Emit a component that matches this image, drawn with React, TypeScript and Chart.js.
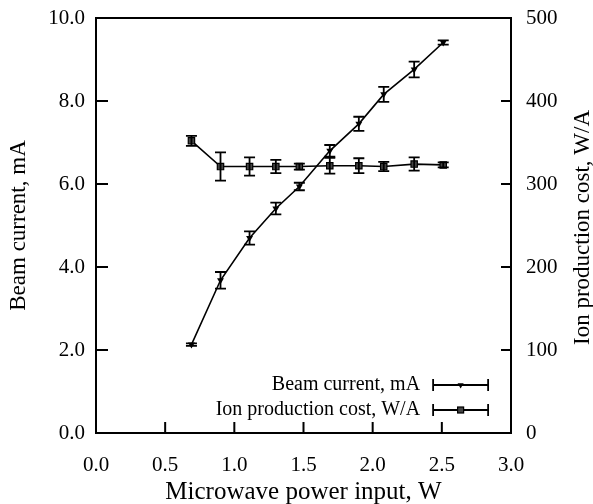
import React, { useEffect, useRef } from "react";
import { Chart, registerables } from "chart.js";
Chart.register(...registerables);

const powerW = [0.69, 0.9, 1.11, 1.3, 1.47, 1.69, 1.9, 2.08, 2.3, 2.51];
const beamCurrent = [2.13, 3.68, 4.7, 5.41, 5.94, 6.8, 7.45, 8.16, 8.76, 9.41];
const beamErr = [0.03, 0.2, 0.16, 0.14, 0.09, 0.14, 0.17, 0.18, 0.19, 0.05];
const ionCost = [352, 321, 321, 321, 321, 322, 322, 321, 324, 323];
const costErr = [6, 17, 11, 8, 3.6, 9.4, 9, 5.6, 8, 3];

const xTickValues = [0.5, 1.0, 1.5, 2.0, 2.5];
const yTickValues = [2, 4, 6, 8];
const y2TickValues = [100, 200, 300, 400];

const legendLabels = ["Beam current, mA", "Ion production cost, W/A"];
const xTitle = "Microwave power input, W";
const yTitle = "Beam current, mA";
const y2Title = "Ion production cost, W/A";

const FONT = '"Liberation Serif", "Times New Roman", serif';

function drawTriangleDown(ctx: CanvasRenderingContext2D, x: number, y: number, r: number) {
  ctx.beginPath();
  ctx.moveTo(x - r * 0.87, y - r * 0.5);
  ctx.lineTo(x + r * 0.87, y - r * 0.5);
  ctx.lineTo(x, y + r);
  ctx.closePath();
  ctx.fill();
}

const errorBarPlugin = {
  id: "errorBars",
  afterDatasetsDraw(chart: any) {
    const ctx = chart.ctx;
    const xs = chart.scales.x;
    ctx.save();
    ctx.strokeStyle = "#000";
    ctx.lineWidth = 1.8;
    chart.data.datasets.forEach((ds: any) => {
      const ys = chart.scales[ds.yAxisID];
      ds.data.forEach((p: any, i: number) => {
        const e = ds.errors[i];
        const px = xs.getPixelForValue(p.x);
        const top = ys.getPixelForValue(p.y + e);
        const bot = ys.getPixelForValue(p.y - e);
        const cw = 5.5;
        ctx.beginPath();
        ctx.moveTo(px, top);
        ctx.lineTo(px, bot);
        ctx.moveTo(px - cw, top);
        ctx.lineTo(px + cw, top);
        ctx.moveTo(px - cw, bot);
        ctx.lineTo(px + cw, bot);
        ctx.stroke();
      });
    });
    ctx.restore();
  },
  afterDraw(chart: any) {
    const ctx = chart.ctx;
    const a = chart.chartArea;
    const xs = chart.scales.x;
    const ys = chart.scales.y;
    const y2 = chart.scales.y2;
    ctx.save();
    ctx.strokeStyle = "#000";
    ctx.lineWidth = 2;
    ctx.strokeRect(a.left, a.top, a.right - a.left, a.bottom - a.top);
    ctx.beginPath();
    xTickValues.forEach((v) => {
      const px = xs.getPixelForValue(v);
      ctx.moveTo(px, a.bottom);
      ctx.lineTo(px, a.bottom - 11);
    });
    yTickValues.forEach((v) => {
      const py = ys.getPixelForValue(v);
      ctx.moveTo(a.left, py);
      ctx.lineTo(a.left + 12, py);
    });
    y2TickValues.forEach((v) => {
      const py = y2.getPixelForValue(v);
      ctx.moveTo(a.right, py);
      ctx.lineTo(a.right - 10, py);
    });
    ctx.stroke();

    // right axis title, reading bottom-to-top
    ctx.save();
    ctx.fillStyle = "#000";
    ctx.font = "23px " + FONT;
    ctx.textAlign = "center";
    ctx.textBaseline = "middle";
    ctx.translate(583, (a.top + a.bottom) / 2 + 2);
    ctx.rotate(-Math.PI / 2);
    ctx.fillText(y2Title, 0, 0);
    ctx.restore();

    // legend
    ctx.font = "20px " + FONT;
    ctx.fillStyle = "#000";
    ctx.textAlign = "right";
    ctx.textBaseline = "middle";
    const rows = [385, 410];
    const textRight = a.left + (a.right - a.left) * 0.781;
    const sx0 = textRight + 13;
    const sx1 = sx0 + 55;
    const mx = (sx0 + sx1) / 2;
    legendLabels.forEach((lab, i) => {
      const ry = rows[i];
      ctx.fillText(lab, textRight, ry);
      ctx.lineWidth = 1.8;
      ctx.beginPath();
      ctx.moveTo(sx0, ry);
      ctx.lineTo(sx1, ry);
      ctx.moveTo(sx0, ry - 6);
      ctx.lineTo(sx0, ry + 6);
      ctx.moveTo(sx1, ry - 6);
      ctx.lineTo(sx1, ry + 6);
      ctx.stroke();
      if (i === 0) {
        drawTriangleDown(ctx, mx, ry, 3.5);
      } else {
        ctx.fillStyle = "#444";
        ctx.fillRect(mx - 3, ry - 3, 6, 6);
        ctx.lineWidth = 1.2;
        ctx.strokeRect(mx - 3, ry - 3, 6, 6);
        ctx.fillStyle = "#000";
      }
    });
    ctx.restore();
  },
};

export default function App() {
  const ref = useRef<HTMLCanvasElement | null>(null);
  useEffect(() => {
    document.body.style.margin = "0";
    const canvas = ref.current;
    if (!canvas) return;
    const tickFont = { family: FONT, size: 21 };
    const chart = new Chart(canvas, {
      type: "scatter",
      data: {
        datasets: [
          {
            label: legendLabels[0],
            data: powerW.map((x, i) => ({ x, y: beamCurrent[i] })),
            errors: beamErr,
            yAxisID: "y",
            showLine: true,
            borderColor: "#000",
            backgroundColor: "#000",
            borderWidth: 1.6,
            pointStyle: "triangle",
            rotation: 180,
            pointRadius: 4,
            pointBorderWidth: 0,
          } as any,
          {
            label: legendLabels[1],
            data: powerW.map((x, i) => ({ x, y: ionCost[i] })),
            errors: costErr,
            yAxisID: "y2",
            showLine: true,
            borderColor: "#000",
            backgroundColor: "#444",
            borderWidth: 1.6,
            pointStyle: "rect",
            pointRadius: 4.5,
            pointBorderWidth: 1.2,
            pointBorderColor: "#000",
          } as any,
        ],
      },
      options: {
        animation: false,
        responsive: false,
        layout: { padding: { top: 18, left: 0, right: 0, bottom: 0 } },
        plugins: { legend: { display: false }, tooltip: { enabled: false } },
        scales: {
          x: {
            type: "linear",
            min: 0,
            max: 3,
            grid: { display: false, drawTicks: false },
            border: { display: false },
            ticks: {
              stepSize: 0.5,
              color: "#000",
              font: tickFont,
              padding: 20,
              maxRotation: 0,
              callback: (v: any) => Number(v).toFixed(1),
            },
            title: {
              display: true,
              text: xTitle,
              color: "#000",
              font: { family: FONT, size: 25, lineHeight: 1 },
              padding: { top: 0, bottom: -1 },
            },
            afterFit: (s: any) => {
              s.height = 71;
              s.paddingLeft = 0;
              s.paddingRight = 0;
            },
          },
          y: {
            type: "linear",
            position: "left",
            min: 0,
            max: 10,
            grid: { display: false, drawTicks: false },
            border: { display: false },
            ticks: {
              stepSize: 2,
              color: "#000",
              font: tickFont,
              padding: 11,
              callback: (v: any) => Number(v).toFixed(1),
            },
            title: {
              display: true,
              text: yTitle,
              color: "#000",
              font: { family: FONT, size: 23, lineHeight: 1 },
              padding: { top: 7, bottom: 0 },
            },
            afterFit: (s: any) => {
              s.width = 96;
              s.paddingTop = 0;
              s.paddingBottom = 0;
            },
          },
          y2: {
            type: "linear",
            position: "right",
            min: 0,
            max: 500,
            grid: { display: false, drawTicks: false },
            border: { display: false },
            ticks: {
              stepSize: 100,
              color: "#000",
              font: tickFont,
              padding: 15,
              callback: (v: any) => String(v),
            },
            title: { display: false },
            afterFit: (s: any) => {
              s.width = 82;
              s.paddingTop = 0;
              s.paddingBottom = 0;
            },
          },
        },
      } as any,
      plugins: [errorBarPlugin],
    });
    return () => chart.destroy();
  }, []);
  return <canvas ref={ref} width={593} height={504} style={{ display: "block" }} />;
}
